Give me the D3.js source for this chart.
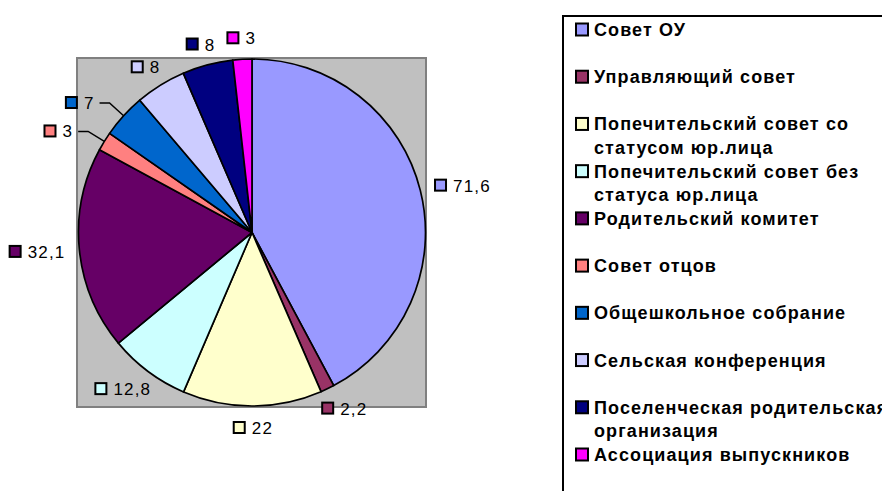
<!DOCTYPE html>
<html>
<head>
<meta charset="utf-8">
<script src="https://cdn.jsdelivr.net/npm/d3@7"></script>
<style>
body{margin:0;background:#fff;}
svg{display:block;font-family:"Liberation Sans",Arial,sans-serif;}
</style>
</head>
<body>
<svg id="chart" width="882" height="491"></svg>
<script>
const names=["Совет ОУ","Управляющий совет","Попечительский совет со\nстатусом юр.лица","Попечительский совет без\nстатуса юр.лица","Родительский комитет","Совет отцов","Общешкольное собрание","Сельская конференция","Поселенческая родительская\nорганизация","Ассоциация выпускников"];
const values=[71.6,2.2,22,12.8,32.1,3,7,8,8,3];
const colors=["#9999ff","#993366","#ffffcc","#ccffff","#660066","#ff8080","#0066cc","#ccccff","#000080","#ff00ff"];

const svg=d3.select('#chart');
const cx=252,cy=232.5,r=173.5;

// plot area
svg.append('rect').attr('x',77).attr('y',58).attr('width',349).attr('height',349)
.attr('fill','#c0c0c0').attr('stroke','#808080').attr('stroke-width',2);

const pie=d3.pie().sort(null).value(d=>d);
const arcs=pie(values);
const arc=d3.arc().innerRadius(0).outerRadius(r);

const g=svg.append('g').attr('transform','translate('+cx+','+cy+')');
g.selectAll('path').data(arcs).join('path')
.attr('d',arc).attr('fill',(d,i)=>colors[i])
.attr('stroke','#000').attr('stroke-width',1.7).attr('stroke-linejoin','round');

const fmt=v=>String(v).replace('.',',');
const total=d3.sum(values);

// data labels
arcs.forEach((d,i)=>{
  const a=(d.startAngle+d.endAngle)/2;
  const s=Math.sin(a),c=-Math.cos(a);
  const lab=g.append('g');
  const t=lab.append('text').text(fmt(values[i])).attr('font-size',17).attr('letter-spacing',1.2);
  const tw=t.node().getComputedTextLength();
  const w=18+tw,h=13;
  let left,base;
  const small=d.value/total<0.045&&Math.abs(s)>0.5;
  if(small){
    // leader line with elbow
    const ex=(r+19)*s,ey=(r+19)*c;
    const hx=ex+(s<0?-10:10);
    lab.append('path').attr('d','M'+(r*s)+','+(r*c)+'L'+ex+','+ey+'L'+hx+','+ey)
    .attr('fill','none').attr('stroke','#000').attr('stroke-width',1.5);
    left=s<0?hx-6-w:hx+6;
    base=ey+6;
  }else{
    const R=r+15;
    const bx=R*s+s*w/2,by=R*c+c*h/2;
    left=bx-w/2;
    base=by+6.5;
  }
  lab.append('rect').attr('x',left+1).attr('y',base-12).attr('width',11).attr('height',11)
  .attr('fill',colors[i]).attr('stroke','#000').attr('stroke-width',2);
  t.attr('x',left+19).attr('y',base);
});

// legend
svg.append('rect').attr('x',563).attr('y',16).attr('width',340).attr('height',500)
.attr('fill','#fff').attr('stroke','#000').attr('stroke-width',2);

const ly=d3.scalePoint().domain(d3.range(names.length)).range([36,461]);
const items=svg.selectAll('.leg').data(names).join('g').attr('class','leg');
items.append('rect').attr('x',576).attr('y',(d,i)=>ly(i)-12.5).attr('width',12).attr('height',12)
.attr('fill',(d,i)=>colors[i]).attr('stroke','#000').attr('stroke-width',2);
items.append('text').attr('x',594).attr('y',(d,i)=>ly(i))
.attr('font-size',18).attr('font-weight','bold').attr('letter-spacing',1.1)
.selectAll('tspan').data(d=>d.split('\n')).join('tspan')
.attr('x',594).attr('dy',(d,j)=>j?23.5:0).text(d=>d);
</script>
</body>
</html>
